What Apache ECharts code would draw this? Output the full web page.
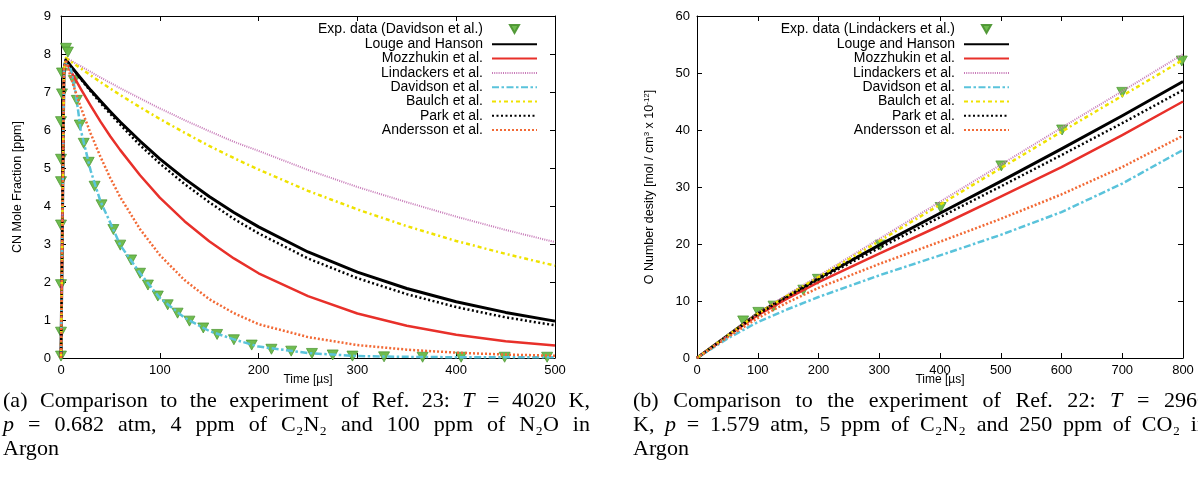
<!DOCTYPE html>
<html><head><meta charset="utf-8">
<script src="https://cdn.jsdelivr.net/npm/echarts@6/dist/echarts.min.js"></script>
<style>html,body{margin:0;padding:0;background:#fff;}#c{width:1198px;height:487px;}</style>
</head><body><div id="c"></div>
<script>
// ---------- Panel (a): CN mole fraction [ppm] vs time [us] ----------
const cnTime      = [0, 3, 5, 10, 15, 20, 30, 40, 50, 60, 80, 100, 125, 150, 175, 200, 250, 300, 350, 400, 450, 500];
const cnLouge     = [0, 7.6, 7.85, 7.68, 7.52, 7.36, 7.05, 6.76, 6.48, 6.21, 5.71, 5.24, 4.72, 4.25, 3.83, 3.45, 2.79, 2.26, 1.83, 1.48, 1.20, 0.97];
const cnMozz      = [0, 7.6, 7.82, 7.55, 7.31, 7.08, 6.64, 6.22, 5.83, 5.47, 4.81, 4.22, 3.60, 3.07, 2.62, 2.23, 1.63, 1.17, 0.85, 0.61, 0.44, 0.33];
const cnLind      = [0, 7.6, 7.9, 7.83, 7.75, 7.68, 7.53, 7.38, 7.24, 7.10, 6.83, 6.57, 6.26, 5.97, 5.69, 5.45, 4.95, 4.50, 4.10, 3.72, 3.37, 3.05];
const cnDavid     = [0, 7.6, 7.82, 7.6, 6.95, 6.0, 4.93, 4.12, 3.55, 2.97, 2.23, 1.58, 1.06, 0.71, 0.49, 0.30, 0.13, 0.05, 0.03, 0.02, 0.02, 0.02];
const cnBaulch    = [0, 7.6, 7.9, 7.8, 7.71, 7.62, 7.44, 7.26, 7.09, 6.92, 6.60, 6.29, 5.93, 5.58, 5.26, 4.96, 4.40, 3.91, 3.47, 3.08, 2.74, 2.43];
const cnPark      = [0, 7.6, 7.85, 7.68, 7.51, 7.34, 7.02, 6.71, 6.42, 6.14, 5.60, 5.12, 4.58, 4.10, 3.66, 3.28, 2.62, 2.10, 1.68, 1.34, 1.07, 0.86];
const cnAnders    = [0, 7.6, 7.8, 7.38, 6.98, 6.60, 5.91, 5.29, 4.73, 4.23, 3.39, 2.71, 2.05, 1.55, 1.18, 0.89, 0.55, 0.34, 0.22, 0.14, 0.09, 0.06];
const cnExpT      = [0, 0, 0, 0, 0, 0, 0, 1, 1, 5, 7, 13, 16, 19, 23, 28, 34, 41, 53, 60, 71, 80, 88, 98, 108, 118, 130, 144, 158, 175, 193, 213, 233, 254, 275, 295, 327, 366, 405, 449, 492];
const cnExpV      = [0.05, 0.68, 1.93, 3.5, 4.64, 5.23, 6.22, 6.95, 7.5, 8.15, 8.05, 7.3, 6.78, 6.13, 5.65, 5.15, 4.52, 4.03, 3.38, 2.97, 2.58, 2.23, 1.92, 1.63, 1.4, 1.18, 0.97, 0.79, 0.62, 0.48, 0.34, 0.23, 0.18, 0.12, 0.08, 0.05, 0.03, 0.02, 0.02, 0.02, 0.02];

// ---------- Panel (b): O number density vs time [us] ----------
const oTime   = [0, 50, 100, 150, 200, 300, 400, 500, 600, 700, 800];
const oLouge  = [0, 3.9, 7.8, 10.9, 14.0, 19.8, 25.4, 31.0, 36.7, 42.5, 48.5];
const oMozz   = [0, 3.8, 7.5, 10.5, 13.3, 18.3, 23.2, 28.3, 33.5, 39.1, 45.0];
const oLind   = [0, 3.95, 7.9, 11.2, 14.4, 20.9, 27.4, 33.9, 40.4, 46.8, 53.3];
const oDavid  = [0, 3.4, 6.3, 8.6, 10.7, 14.5, 18.0, 21.6, 25.6, 30.6, 36.5];
const oBaulch = [0, 3.9, 7.8, 11.0, 14.2, 20.5, 26.9, 33.3, 39.7, 46.0, 52.3];
const oPark   = [0, 3.85, 7.7, 10.8, 13.8, 19.3, 24.7, 30.1, 35.6, 41.2, 47.0];
const oAnders = [0, 3.6, 7.0, 9.8, 12.3, 16.5, 20.4, 24.4, 28.7, 33.5, 39.0];
const oExpT   = [76, 101, 126, 175, 199, 302, 401, 501, 601, 700, 798];
const oExpV   = [6.5, 8.0, 9.1, 11.9, 13.8, 19.8, 26.4, 33.7, 40.0, 46.6, 52.1];

// ---------- Texts ----------
const modelNames = ['Louge and Hanson', 'Mozzhukin et al.', 'Lindackers et al.', 'Davidson et al.', 'Baulch et al.', 'Park et al.', 'Andersson et al.'];
const expNameA = 'Exp. data (Davidson et al.)';
const expNameB = 'Exp. data (Lindackers et al.)';
const xNameA = 'Time [\u00b5s]', xNameB = 'Time [\u00b5s]';
const yNameA = 'CN Mole Fraction [ppm]';
const yNameB = 'O Number desity [mol / cm{sup|3} x 10{sup|-12}]';
const capA = [
  ['(a)', 'Comparison', 'to', 'the', 'experiment', 'of', 'Ref.', '23:', 'T', '=', '4020', 'K,'],
  ['p', '=', '0.682', 'atm,', '4', 'ppm', 'of', 'C\u2082N\u2082', 'and', '100', 'ppm', 'of', 'N\u2082O', 'in'],
  ['Argon']
];
const capB = [
  ['(b)', 'Comparison', 'to', 'the', 'experiment', 'of', 'Ref.', '22:', 'T', '=', '2960'],
  ['K,', 'p', '=', '1.579', 'atm,', '5', 'ppm', 'of', 'C\u2082N\u2082', 'and', '250', 'ppm', 'of', 'CO\u2082', 'in'],
  ['Argon']
];
const italicWords = new Set(['T', 'p']);

// ---------- styles ----------
const SANS = 'Liberation Sans';
const SERIF = 'Liberation Serif';
const CAP_SIZE = 21;
const CAP_SX = 1.05;
const styles = [
  {color: '#000000', width: 3,   type: 'solid'},
  {color: '#e8302a', width: 2.5, type: 'solid'},
  {color: '#c77ab8', width: 2,   type: [1, 1.2]},
  {color: '#5ac3db', width: 2.5, type: [7, 2.5, 2.5, 2.5]},
  {color: '#efe200', width: 2.5, type: [4, 3, 2, 3]},
  {color: '#000000', width: 2.5, type: [2, 2.5]},
  {color: '#f26a36', width: 2.5, type: [2, 2]}
];
const cnSeries = [cnLouge, cnMozz, cnLind, cnDavid, cnBaulch, cnPark, cnAnders];
const oSeries = [oLouge, oMozz, oLind, oDavid, oBaulch, oPark, oAnders];
const zip = (xs, ys) => xs.map((x, i) => [x, ys[i]]);

const series = [];
function addPanel(gi, expName, expT, expV, time, vals) {
  series.push({
    name: expName, type: 'scatter', xAxisIndex: gi * 2, yAxisIndex: gi * 2,
    data: zip(expT, expV), symbol: 'triangle', symbolRotate: 180, symbolSize: [11, 10],
    itemStyle: {color: '#67b846', borderColor: '#4d9633', borderWidth: 0.8, opacity: 0.95},
    clip: false, z: 2
  });
  vals.forEach((v, k) => {
    series.push({
      name: modelNames[k], type: 'line', xAxisIndex: gi * 2, yAxisIndex: gi * 2,
      data: zip(time, v), showSymbol: false, symbol: 'none', smooth: false,
      lineStyle: {color: styles[k].color, width: styles[k].width, type: styles[k].type, cap: 'butt', join: 'round'},
      itemStyle: {color: styles[k].color}, z: 3
    });
  });
}
addPanel(0, expNameA, cnExpT, cnExpV, cnTime, cnSeries);
addPanel(1, expNameB, oExpT, oExpV, oTime, oSeries);

function xAxes(gi, max, name) {
  const common = {type: 'value', gridIndex: gi, min: 0, max: max, interval: 100,
    axisLine: {show: true, onZero: false, lineStyle: {color: '#000', width: 1}},
    axisTick: {show: true, inside: true, length: 5, lineStyle: {color: '#000'}},
    splitLine: {show: false}};
  return [
    Object.assign({}, common, {position: 'bottom', name: name, nameLocation: 'middle', nameGap: 16, nameMoveOverlap: false,
      nameTextStyle: {fontFamily: SANS, fontSize: 12, color: '#000'},
      axisLabel: {show: true, margin: 6, fontFamily: SANS, fontSize: 13, color: '#000'}}),
    Object.assign({}, common, {position: 'top', axisLabel: {show: false}})
  ];
}
function yAxes(gi, max, interval, name, gap, margin, rich) {
  const common = {type: 'value', gridIndex: gi, min: 0, max: max, interval: interval,
    axisLine: {show: true, onZero: false, lineStyle: {color: '#000', width: 1}},
    axisTick: {show: true, inside: true, length: 5, lineStyle: {color: '#000'}},
    splitLine: {show: false}};
  return [
    Object.assign({}, common, {position: 'left', name: name, nameLocation: 'middle', nameGap: gap, nameMoveOverlap: false,
      nameTextStyle: {fontFamily: SANS, fontSize: 12.5, color: '#000', rich: rich || {}},
      axisLabel: {show: true, margin: margin, fontFamily: SANS, fontSize: 13, color: '#000'}}),
    Object.assign({}, common, {position: 'right', axisLabel: {show: false}})
  ];
}

const expIcon = 'path://M0,0M45,14M18,3L27,3L22.5,11Z';
function legend(expName, rightPx) {
  const data = [{name: expName, icon: expIcon}].concat(
    modelNames.map(n => ({name: n, itemStyle: {opacity: 0, borderWidth: 0}})));
  return {
    data: data, orient: 'vertical', align: 'right', right: rightPx, top: 21, padding: 0,
    itemWidth: 45, itemHeight: 14, itemGap: 0.3, symbolRotate: 0,
    textStyle: {fontFamily: SANS, fontSize: 14, color: '#000', padding: [0, 4, 0, 0]},
    selectedMode: false
  };
}

// ---------- captions (justified, text) ----------
const ctx = document.createElement('canvas').getContext('2d');
function fontStr(it) { return (it ? 'italic ' : '') + CAP_SIZE + 'px "' + SERIF + '"'; }
function measure(s, it) { ctx.font = fontStr(it); return ctx.measureText(s).width * CAP_SX; }
function captionLines(lines, x0, x1, y0, dy) {
  const els = [];
  lines.forEach((words, li) => {
    const ws = words.map(s => measure(s, italicWords.has(s)));
    const tot = ws.reduce((a, b) => a + b, 0);
    const last = li === lines.length - 1;
    const gap = last || words.length < 2 ? measure(' ', false) : (x1 - x0 - tot) / (words.length - 1);
    let x = x0;
    words.forEach((s, i) => {
      const it = italicWords.has(s);
      els.push({type: 'text', x: x, y: y0 + li * dy, scaleX: CAP_SX, silent: true,
        style: {text: s, fontFamily: SERIF, fontSize: CAP_SIZE, fontStyle: it ? 'italic' : 'normal', fill: '#000', verticalAlign: 'middle', align: 'left'}});
      x += ws[i] + gap;
    });
  });
  return els;
}

const chart = echarts.init(document.getElementById('c'), null, {renderer: 'canvas'});
chart.setOption({
  animation: false,
  backgroundColor: '#fff',
  grid: [
    {left: 61, right: 643, top: 16, bottom: 129, outerBoundsMode: 'none', containLabel: false},
    {left: 697, right: 15, top: 16, bottom: 129, outerBoundsMode: 'none', containLabel: false}
  ],
  xAxis: [].concat(xAxes(0, 500, xNameA), xAxes(1, 800, xNameB)),
  yAxis: [].concat(
    yAxes(0, 9, 1, yNameA, 37, 10),
    yAxes(1, 60, 10, yNameB, 41, 7, {sup: {fontFamily: SANS, fontSize: 8, verticalAlign: 'top', color: '#000'}})
  ),
  legend: [legend(expNameA, 660), legend(expNameB, 188)],
  series: series,
  graphic: {elements: [].concat(
    captionLines(capA, 3, 590, 401, 24),
    captionLines(capB, 633, 1208, 401, 24)
  )}
});
</script></body></html>
